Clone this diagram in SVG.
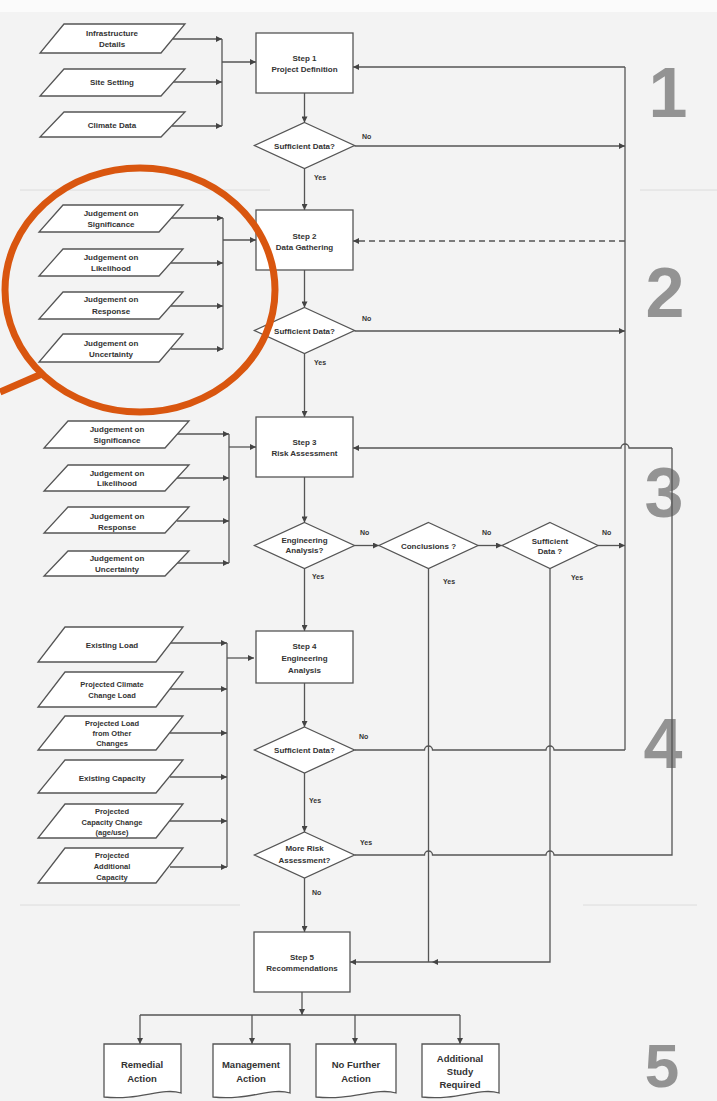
<svg xmlns="http://www.w3.org/2000/svg" width="717" height="1101" viewBox="0 0 717 1101">
  <defs>
    <marker id="ah" viewBox="0 0 10 10" refX="10" refY="5" markerWidth="7" markerHeight="6" markerUnits="userSpaceOnUse" orient="auto">
      <path d="M0,0 L10,5 L0,10 z" fill="#444"/>
    </marker>
    <style>
      .bg { fill: #f3f3f3; }
      .sep { stroke: #dcdcdc; stroke-width: 1; fill: none; }
      .shape { fill: #ffffff; stroke: #555; stroke-width: 1.3; }
      .ln { fill: none; stroke: #555; stroke-width: 1.3; }
      .arr { fill: none; stroke: #555; stroke-width: 1.3; marker-end: url(#ah); }
      .dash { stroke-dasharray: 6 4; }
      text { font-family: "Liberation Sans", Arial, sans-serif; font-weight: bold; fill: #333; text-anchor: middle; }
      .t { font-size: 8px; }
      .ts { font-size: 7.5px; }
      .tl { font-size: 7px; text-anchor: start; }
      .to { font-size: 9.5px; }
      .num { font-size: 70px; fill: #939393; }
      .hl { fill: none; stroke: #d9560f; stroke-width: 7; }
    </style>
  </defs>

  <!-- page -->
  <rect class="bg" x="0" y="0" width="717" height="1101"/>
  <rect x="0" y="0" width="717" height="12" fill="#fbfbfb"/>
  <path class="sep" d="M20,190 H270 M640,190 H717 M583,905 H697 M20,905 H240"/>

  <!-- section numbers -->
  <g id="section-numbers">
    <text class="num" x="668" y="117">1</text>
    <text class="num" x="665" y="317">2</text>
    <text class="num" x="664" y="517">3</text>
    <text class="num" x="663" y="768">4</text>
    <text class="num" x="662" y="1087" style="font-size:62px">5</text>
  </g>

  <!-- connectors -->
  <g id="connectors">
    <!-- step 1 inputs -->
    <path class="arr" d="M173,39 H222"/>
    <path class="arr" d="M173,82 H222"/>
    <path class="arr" d="M172,126 H222"/>
    <path class="ln" d="M222,39 V126"/>
    <path class="arr" d="M222,62 H256"/>
    <!-- step 2 inputs -->
    <path class="arr" d="M171,218 H223"/>
    <path class="arr" d="M171,263 H223"/>
    <path class="arr" d="M171,306 H223"/>
    <path class="arr" d="M171,349 H223"/>
    <path class="ln" d="M223,218 V349"/>
    <path class="arr" d="M223,240 H256"/>
    <!-- step 3 inputs -->
    <path class="arr" d="M177,434 H229"/>
    <path class="arr" d="M177,478 H229"/>
    <path class="arr" d="M177,521 H229"/>
    <path class="arr" d="M177,563 H229"/>
    <path class="ln" d="M229,434 V563"/>
    <path class="arr" d="M229,447 H256"/>
    <!-- step 4 inputs -->
    <path class="arr" d="M170,643 H227"/>
    <path class="arr" d="M170,689 H227"/>
    <path class="arr" d="M170,733 H227"/>
    <path class="arr" d="M170,777 H227"/>
    <path class="arr" d="M170,821 H227"/>
    <path class="arr" d="M170,867 H227"/>
    <path class="ln" d="M227,643 V867"/>
    <path class="arr" d="M227,658 H254"/>

    <!-- main spine -->
    <path class="arr" d="M304.5,93 V122.5"/>
    <path class="arr" d="M304.5,168.5 V210"/>
    <path class="arr" d="M304.5,270 V307.5"/>
    <path class="arr" d="M304.5,353.5 V417"/>
    <path class="arr" d="M304.5,477 V522.5"/>
    <path class="arr" d="M304.5,568.5 V631"/>
    <path class="arr" d="M304.5,683 V727"/>
    <path class="arr" d="M304.5,773 V832"/>
    <path class="arr" d="M304.5,878 V932"/>

    <!-- "No" branches to the loop-back line -->
    <path class="arr" d="M354.5,146 H625"/>
    <path class="arr" d="M354.5,331 H625"/>
    <!-- loop back to steps 1 and 2 -->
    <path class="ln" d="M625,67 V750"/>
    <path class="arr" d="M625,67 H353"/>
    <path class="arr dash" d="M625,241 H353"/>

    <!-- step 3 decision chain -->
    <path class="arr" d="M354.5,545.5 H379"/>
    <path class="arr" d="M478,545.5 H502"/>
    <path class="arr" d="M598,545.5 H625"/>

    <!-- "Yes" paths down to step 5 -->
    <path class="ln" d="M428.5,568.5 V962"/>
    <path class="arr" d="M550,568.5 V962 H432"/>
    <path class="arr" d="M432,962 H350"/>

    <!-- step 4 "No" back to loop line (hops over verticals) -->
    <path class="ln" d="M354.5,750 H424.5 A4,4 0 0 1 432.5,750 H546 A4,4 0 0 1 554,750 H625"/>
    <!-- "More risk assessment" Yes back to step 3 -->
    <path class="ln" d="M354.5,855 H424.5 A4,4 0 0 1 432.5,855 H546 A4,4 0 0 1 554,855 H672 V448"/>
    <path class="arr" d="M672,448 H629 A4,4 0 0 0 621,448 H353"/>

    <!-- step 5 outputs -->
    <path class="arr" d="M302,992 V1015"/>
    <path class="ln" d="M140,1015 H460"/>
    <path class="arr" d="M140,1015 V1044"/>
    <path class="arr" d="M252,1015 V1044"/>
    <path class="arr" d="M355,1015 V1044"/>
    <path class="arr" d="M460,1015 V1044"/>
  </g>

  <!-- step 1 inputs -->
  <g id="in-infrastructure">
    <polygon class="shape" points="64,24 185,24 161,53 40,53"/>
    <text class="t" x="112" y="36">Infrastructure</text>
    <text class="t" x="112" y="47">Details</text>
  </g>
  <g id="in-site">
    <polygon class="shape" points="64,69 185,69 161,96 40,96"/>
    <text class="t" x="112" y="85">Site Setting</text>
  </g>
  <g id="in-climate">
    <polygon class="shape" points="64,112 185,112 161,137 40,137"/>
    <text class="t" x="112" y="128">Climate Data</text>
  </g>

  <!-- step 2 inputs -->
  <g id="in2-significance">
    <polygon class="shape" points="63,205 183,205 159,232 39,232"/>
    <text class="t" x="111" y="216">Judgement on</text>
    <text class="t" x="111" y="227">Significance</text>
  </g>
  <g id="in2-likelihood">
    <polygon class="shape" points="63,249 183,249 159,276 39,276"/>
    <text class="t" x="111" y="260">Judgement on</text>
    <text class="t" x="111" y="271">Likelihood</text>
  </g>
  <g id="in2-response">
    <polygon class="shape" points="63,292 183,292 159,319 39,319"/>
    <text class="t" x="111" y="302">Judgement on</text>
    <text class="t" x="111" y="314">Response</text>
  </g>
  <g id="in2-uncertainty">
    <polygon class="shape" points="63,334 183,334 159,362 39,362"/>
    <text class="t" x="111" y="346">Judgement on</text>
    <text class="t" x="111" y="357">Uncertainty</text>
  </g>

  <!-- step 3 inputs -->
  <g id="in3-significance">
    <polygon class="shape" points="68,421 189,421 165,448 44,448"/>
    <text class="t" x="117" y="432">Judgement on</text>
    <text class="t" x="117" y="443">Significance</text>
  </g>
  <g id="in3-likelihood">
    <polygon class="shape" points="68,465 189,465 165,491 44,491"/>
    <text class="t" x="117" y="476">Judgement on</text>
    <text class="t" x="117" y="486">Likelihood</text>
  </g>
  <g id="in3-response">
    <polygon class="shape" points="68,507 189,507 165,533 44,533"/>
    <text class="t" x="117" y="519">Judgement on</text>
    <text class="t" x="117" y="530">Response</text>
  </g>
  <g id="in3-uncertainty">
    <polygon class="shape" points="68,551 189,551 165,576 44,576"/>
    <text class="t" x="117" y="561">Judgement on</text>
    <text class="t" x="117" y="572">Uncertainty</text>
  </g>

  <!-- step 4 inputs -->
  <g id="in4-existing-load">
    <polygon class="shape" points="65,627 183,627 156,662 38,662"/>
    <text class="t" x="112" y="648">Existing Load</text>
  </g>
  <g id="in4-climate-load">
    <polygon class="shape" points="65,672 183,672 156,707 38,707"/>
    <text class="ts" x="112" y="687">Projected Climate</text>
    <text class="ts" x="112" y="698">Change Load</text>
  </g>
  <g id="in4-other-load">
    <polygon class="shape" points="65,716 183,716 156,750 38,750"/>
    <text class="ts" x="112" y="726">Projected Load</text>
    <text class="ts" x="112" y="736">from Other</text>
    <text class="ts" x="112" y="746">Changes</text>
  </g>
  <g id="in4-existing-capacity">
    <polygon class="shape" points="65,760 183,760 156,793 38,793"/>
    <text class="t" x="112" y="781">Existing Capacity</text>
  </g>
  <g id="in4-capacity-change">
    <polygon class="shape" points="65,804 183,804 156,838 38,838"/>
    <text class="ts" x="112" y="814">Projected</text>
    <text class="ts" x="112" y="825">Capacity Change</text>
    <text class="ts" x="112" y="835">(age/use)</text>
  </g>
  <g id="in4-additional-capacity">
    <polygon class="shape" points="65,848 183,848 156,883 38,883"/>
    <text class="ts" x="112" y="858">Projected</text>
    <text class="ts" x="112" y="869">Additional</text>
    <text class="ts" x="112" y="880">Capacity</text>
  </g>

  <!-- process steps -->
  <g id="step1">
    <rect class="shape" x="256" y="33" width="97" height="60"/>
    <text class="t" x="304.5" y="61">Step 1</text>
    <text class="t" x="304.5" y="72">Project Definition</text>
  </g>
  <g id="step2">
    <rect class="shape" x="256" y="210" width="97" height="60"/>
    <text class="t" x="304.5" y="239">Step 2</text>
    <text class="t" x="304.5" y="250">Data Gathering</text>
  </g>
  <g id="step3">
    <rect class="shape" x="256" y="417" width="97" height="60"/>
    <text class="t" x="304.5" y="445">Step 3</text>
    <text class="t" x="304.5" y="456">Risk Assessment</text>
  </g>
  <g id="step4">
    <rect class="shape" x="256" y="631" width="97" height="52"/>
    <text class="t" x="304.5" y="649">Step 4</text>
    <text class="t" x="304.5" y="661">Engineering</text>
    <text class="t" x="304.5" y="673">Analysis</text>
  </g>
  <g id="step5">
    <rect class="shape" x="254" y="932" width="96" height="60"/>
    <text class="t" x="302" y="960">Step 5</text>
    <text class="t" x="302" y="971">Recommendations</text>
  </g>

  <!-- decisions -->
  <g id="dec1">
    <polygon class="shape" points="304.5,122.5 354.5,145.5 304.5,168.5 254.5,145.5"/>
    <text class="t" x="304.5" y="148.5">Sufficient Data?</text>
  </g>
  <g id="dec2">
    <polygon class="shape" points="304.5,307.5 354.5,330.5 304.5,353.5 254.5,330.5"/>
    <text class="t" x="304.5" y="333.5">Sufficient Data?</text>
  </g>
  <g id="dec3">
    <polygon class="shape" points="304.5,522.5 354.5,545.5 304.5,568.5 254.5,545.5"/>
    <text class="t" x="304.5" y="543">Engineering</text>
    <text class="t" x="304.5" y="553">Analysis?</text>
  </g>
  <g id="dec-conclusions">
    <polygon class="shape" points="428.5,522.5 478,545.5 428.5,568.5 379,545.5"/>
    <text class="t" x="428.5" y="548.5">Conclusions ?</text>
  </g>
  <g id="dec-data">
    <polygon class="shape" points="550,522.5 598,545.5 550,568.5 502,545.5"/>
    <text class="t" x="550" y="544">Sufficient</text>
    <text class="t" x="550" y="554">Data ?</text>
  </g>
  <g id="dec4">
    <polygon class="shape" points="304.5,727 354.5,750 304.5,773 254.5,750"/>
    <text class="t" x="304.5" y="753">Sufficient Data?</text>
  </g>
  <g id="dec5">
    <polygon class="shape" points="304.5,832 354.5,855 304.5,878 254.5,855"/>
    <text class="t" x="304.5" y="851">More Risk</text>
    <text class="t" x="304.5" y="863">Assessment?</text>
  </g>

  <!-- branch labels -->
  <g id="labels">
    <text class="tl" x="362" y="139">No</text>
    <text class="tl" x="314" y="180">Yes</text>
    <text class="tl" x="362" y="321">No</text>
    <text class="tl" x="314" y="365">Yes</text>
    <text class="tl" x="360" y="535">No</text>
    <text class="tl" x="312" y="579">Yes</text>
    <text class="tl" x="482" y="535">No</text>
    <text class="tl" x="443" y="584">Yes</text>
    <text class="tl" x="602" y="535">No</text>
    <text class="tl" x="571" y="580">Yes</text>
    <text class="tl" x="359" y="739">No</text>
    <text class="tl" x="309" y="803">Yes</text>
    <text class="tl" x="360" y="845">Yes</text>
    <text class="tl" x="312" y="895">No</text>
  </g>

  <!-- outcomes -->
  <g id="out-remedial">
    <path class="shape" d="M104,1044 H181 V1093 C162,1087 139,1101 104,1097 Z"/>
    <text class="to" x="142" y="1068">Remedial</text>
    <text class="to" x="142" y="1082">Action</text>
  </g>
  <g id="out-management">
    <path class="shape" d="M213,1044 H290 V1093 C271,1087 248,1101 213,1097 Z"/>
    <text class="to" x="251" y="1068">Management</text>
    <text class="to" x="251" y="1082">Action</text>
  </g>
  <g id="out-no-further">
    <path class="shape" d="M316,1044 H396 V1093 C376,1087 352,1101 316,1097 Z"/>
    <text class="to" x="356" y="1068">No Further</text>
    <text class="to" x="356" y="1082">Action</text>
  </g>
  <g id="out-additional">
    <path class="shape" d="M422,1044 H499 V1093 C480,1087 457,1101 422,1097 Z"/>
    <text class="to" x="460" y="1062">Additional</text>
    <text class="to" x="460" y="1075">Study</text>
    <text class="to" x="460" y="1088">Required</text>
  </g>

  <!-- highlight around the step 2 judgement inputs -->
  <g id="highlight">
    <ellipse class="hl" cx="140" cy="290" rx="135" ry="122"/>
    <path class="hl" d="M44,373 L0,392"/>
  </g>
</svg>
